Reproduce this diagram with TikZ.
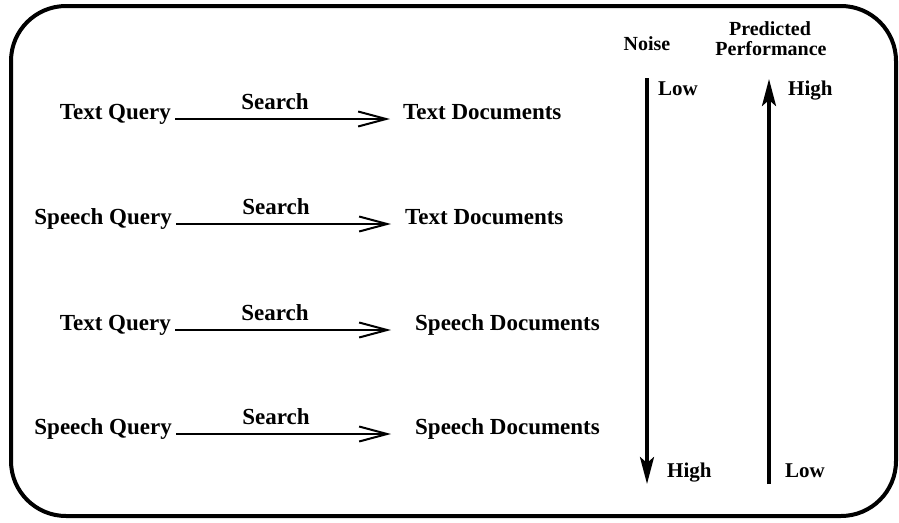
\documentclass[tikz,border=0pt]{standalone}
\usepackage{fontspec}
\setmainfont{Liberation Serif}
\usetikzlibrary{arrows.meta,positioning}
\tikzset{
    lbl/.style={font=\fontsize{23}{26}\selectfont\bfseries, inner sep=0pt},
    sidelbl/.style={font=\fontsize{21}{24}\selectfont\bfseries, inner sep=0pt},
    toplbl/.style={font=\fontsize{20}{22}\selectfont\bfseries, inner sep=0pt},
    searcharrow/.style={line width=2pt, -{Straight Barb[length=28pt,width=15pt]}, shorten <=4pt},
    scalearrow/.style={line width=3.6pt, -{Stealth[length=27pt,width=14pt,inset=6pt]}}
}

\begin{document}
\begin{tikzpicture}[x=1pt, y=-1pt]
    \useasboundingbox (0,0) rectangle (899,522);
    \draw[line width=4pt, rounded corners=55pt] (11,6) rectangle (896,516);

    % queries and documents
    \node[lbl, anchor=base east] (q1) at (171,119) {Text Query};
    \node[lbl, anchor=base east] (q2) at (172,224) {Speech Query};
    \node[lbl, anchor=base east] (q3) at (171,330) {Text Query};
    \node[lbl, anchor=base east] (q4) at (172,434) {Speech Query};
    \node[lbl, anchor=base west] (d1) at (403,119) {Text Documents};
    \node[lbl, anchor=base west] (d2) at (405,224) {Text Documents};
    \node[lbl, anchor=base west] (d3) at (415,330) {Speech Documents};
    \node[lbl, anchor=base west] (d4) at (415,434) {Speech Documents};
    \node[lbl, anchor=base] (s1) at (275,109) {Search};
    \node[lbl, anchor=base] (s2) at (276,214) {Search};
    \node[lbl, anchor=base] (s3) at (275,320) {Search};
    \node[lbl, anchor=base] (s4) at (276,424) {Search};
    \draw[searcharrow, shorten >=13pt] (q1.base east) -- (d1.base west);
    \draw[searcharrow, shorten >=14pt] (q2.base east) -- (d2.base west);
    \draw[searcharrow, shorten >=24pt] (q3.base east) -- (d3.base west);
    \draw[searcharrow, shorten >=24pt] (q4.base east) -- (d4.base west);

    % noise and performance scales
    \node[toplbl, anchor=base] (noise) at (647,50) {Noise};
    \node[toplbl, anchor=base] (pred) at (770,35) {Predicted};
    \node[toplbl, anchor=base] (perf) at (771,55) {Performance};
    \node[sidelbl, anchor=base west] (nlow) at (658,95) {Low};
    \node[sidelbl, anchor=base west] (nhigh) at (667,477) {High};
    \node[sidelbl, anchor=base west] (phigh) at (788,95) {High};
    \node[sidelbl, anchor=base west] (plow) at (785,477) {Low};
    \coordinate (ntop) at (647,78);
    \coordinate (nbot) at (647,484);
    \coordinate (ptop) at (769,79);
    \coordinate (pbot) at (769,484);
    \draw[scalearrow] (ntop) -- (nbot);
    \draw[scalearrow] (pbot) -- (ptop);
\end{tikzpicture}
\end{document}
